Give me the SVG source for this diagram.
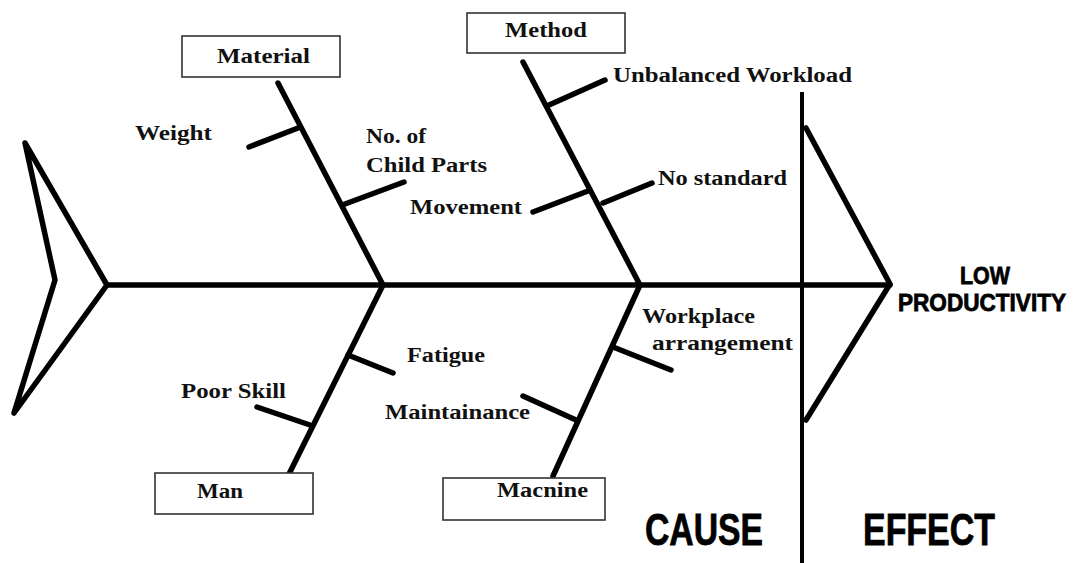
<svg xmlns="http://www.w3.org/2000/svg" width="1078" height="563" viewBox="0 0 1078 563">
<style>
.bone{stroke:#000;stroke-width:5.5;fill:none;stroke-linecap:round;stroke-linejoin:round}
.box{fill:#fff;stroke:#333;stroke-width:1.6}
.lbl{font-family:"Liberation Serif","Times New Roman",serif;font-weight:bold;font-size:20px;fill:#111}
.big{font-family:"Liberation Sans",Arial,sans-serif;font-weight:bold;fill:#000;stroke:#000;stroke-width:0.8}
</style>
<rect width="1078" height="563" fill="#fff"/>
<g id="connectors">
<polygon class="bone" points="25,143 107,285 14,413 55,280"/>
<line class="bone" x1="107" y1="285" x2="890" y2="285"/>
<line x1="802" y1="92" x2="802" y2="563" stroke="#000" stroke-width="4"/>
<polyline class="bone" points="806,128 890,284 806,420"/>
<line class="bone" x1="278" y1="83" x2="383" y2="285"/>
<line class="bone" x1="249" y1="147" x2="298" y2="128"/>
<line class="bone" x1="345" y1="204" x2="404" y2="182"/>
<line class="bone" x1="523" y1="62" x2="640" y2="285"/>
<line class="bone" x1="549" y1="105" x2="605" y2="80"/>
<line class="bone" x1="533" y1="212" x2="588" y2="191"/>
<line class="bone" x1="603" y1="203" x2="652" y2="183"/>
<line class="bone" x1="383" y1="285" x2="289" y2="474"/>
<line class="bone" x1="348" y1="355" x2="393" y2="373"/>
<line class="bone" x1="257" y1="407" x2="310" y2="425"/>
<line class="bone" x1="640" y1="285" x2="553" y2="476"/>
<line class="bone" x1="523" y1="396" x2="576" y2="420"/>
<line class="bone" x1="613" y1="347" x2="671" y2="370"/>
</g>
<g id="material">
<rect class="box" x="182" y="36" width="158" height="41"/>
<text class="lbl" x="217" y="63" textLength="93" lengthAdjust="spacingAndGlyphs">Material</text>
</g>
<g id="method">
<rect class="box" x="467" y="13" width="158" height="40"/>
<text class="lbl" x="505" y="37" textLength="82" lengthAdjust="spacingAndGlyphs">Method</text>
</g>
<g id="man">
<rect class="box" x="155" y="473" width="158" height="41"/>
<text class="lbl" x="197" y="498" textLength="46" lengthAdjust="spacingAndGlyphs">Man</text>
</g>
<g id="machine">
<rect class="box" x="443" y="478" width="162" height="42"/>
<text class="lbl" x="497" y="497" textLength="91" lengthAdjust="spacingAndGlyphs">Macnine</text>
</g>
<g id="causes">
<text class="lbl" x="135" y="140" textLength="77" lengthAdjust="spacingAndGlyphs">Weight</text>
<text class="lbl" x="366" y="143" textLength="60" lengthAdjust="spacingAndGlyphs">No. of</text>
<text class="lbl" x="366" y="172" textLength="121" lengthAdjust="spacingAndGlyphs">Child Parts</text>
<text class="lbl" x="613" y="82" textLength="239" lengthAdjust="spacingAndGlyphs">Unbalanced Workload</text>
<text class="lbl" x="658" y="185" textLength="129" lengthAdjust="spacingAndGlyphs">No standard</text>
<text class="lbl" x="410" y="214" textLength="112" lengthAdjust="spacingAndGlyphs">Movement</text>
<text class="lbl" x="407" y="362" textLength="78" lengthAdjust="spacingAndGlyphs">Fatigue</text>
<text class="lbl" x="181" y="398" textLength="105" lengthAdjust="spacingAndGlyphs">Poor Skill</text>
<text class="lbl" x="385" y="419" textLength="145" lengthAdjust="spacingAndGlyphs">Maintainance</text>
<text class="lbl" x="642" y="323" textLength="113" lengthAdjust="spacingAndGlyphs">Workplace</text>
<text class="lbl" x="652" y="350" textLength="141" lengthAdjust="spacingAndGlyphs">arrangement</text>
</g>
<g id="effect">
<text class="big" x="960" y="284" font-size="24" textLength="50" lengthAdjust="spacingAndGlyphs">LOW</text>
<text class="big" x="898" y="311" font-size="24" textLength="168" lengthAdjust="spacingAndGlyphs">PRODUCTIVITY</text>
</g>
<g id="sides">
<text class="big" x="645" y="545" font-size="45" textLength="118" lengthAdjust="spacingAndGlyphs">CAUSE</text>
<text class="big" x="863" y="545" font-size="45" textLength="132" lengthAdjust="spacingAndGlyphs">EFFECT</text>
</g>
</svg>
